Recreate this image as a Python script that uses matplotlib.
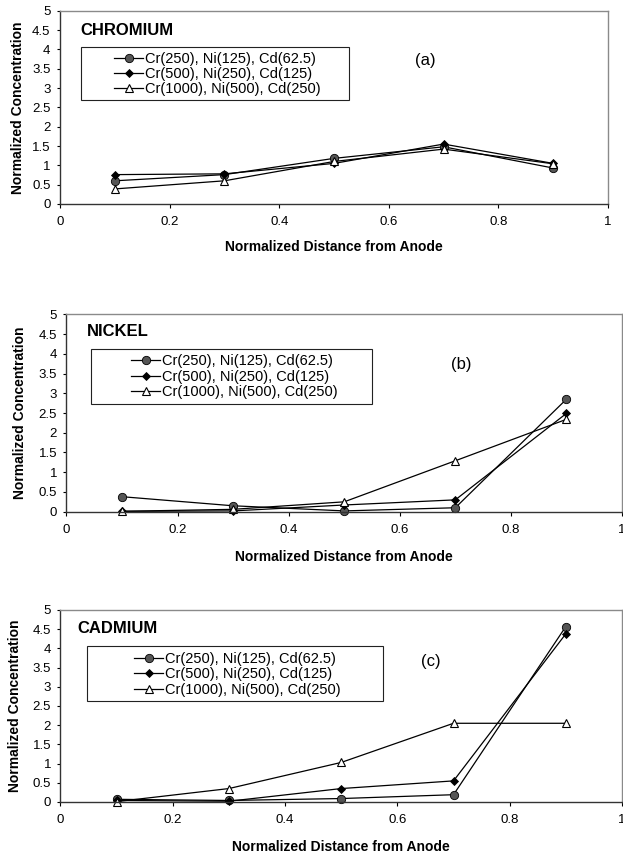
import matplotlib
matplotlib.use("Agg")
import matplotlib.pyplot as plt
from matplotlib.patches import Rectangle

plt.rcParams['font.family'] = ['Liberation Sans', 'DejaVu Sans']

# ---------------- data ----------------
x_dist = [0.1, 0.3, 0.5, 0.7, 0.9]
series_labels = ["Cr(250), Ni(125), Cd(62.5)",
                 "Cr(500), Ni(250), Cd(125)",
                 "Cr(1000), Ni(500), Cd(250)"]

cr_s1 = [0.60, 0.76, 1.18, 1.48, 0.93]
cr_s2 = [0.76, 0.78, 1.05, 1.55, 1.05]
cr_s3 = [0.39, 0.60, 1.10, 1.42, 1.04]

ni_s1 = [0.38, 0.15, 0.02, 0.10, 2.85]
ni_s2 = [0.01, 0.02, 0.17, 0.30, 2.49]
ni_s3 = [0.01, 0.06, 0.25, 1.29, 2.34]

cd_s1 = [0.07, 0.04, 0.09, 0.19, 4.57]
cd_s2 = [0.04, 0.02, 0.35, 0.55, 4.38]
cd_s3 = [0.01, 0.35, 1.03, 2.05, 2.05]

x_ticks = [0, 0.2, 0.4, 0.6, 0.8, 1]
x_ticklabels = ["0", "0.2", "0.4", "0.6", "0.8", "1"]
y_ticks = [0, 0.5, 1, 1.5, 2, 2.5, 3, 3.5, 4, 4.5, 5]
y_ticklabels = ["0", "0.5", "1", "1.5", "2", "2.5", "3", "3.5", "4", "4.5", "5"]

panel_titles = ["CHROMIUM", "NICKEL", "CADMIUM"]
panel_tags = ["(a)", "(b)", "(c)"]
panel_data = [(cr_s1, cr_s2, cr_s3), (ni_s1, ni_s2, ni_s3), (cd_s1, cd_s2, cd_s3)]

# ---------------- layout (pixels) ----------------
W, H = 623, 857
layout = [
    dict(l=60, r=608, t=10.7, b=204, title=(80.6, 30.7), tag=(425, 61),
         box=(80.6, 47, 348.8, 100), hx=114, hy=74, lsp=0.05, xl=247, yl=18),
    dict(l=66.4, r=622, t=314.3, b=511.7, title=(86.6, 331.7), tag=(461, 365),
         box=(91.4, 349, 372.3, 404), hx=131, hy=376.7, lsp=0.1, xl=556.7, yl=20),
    dict(l=60.4, r=622, t=610, b=802, title=(77.5, 628.3), tag=(431, 661.7),
         box=(86.6, 645.7, 383.4, 701), hx=134, hy=674.3, lsp=0.1, xl=846.7, yl=15),
]

def fx(px):
    return px / W

def fy(py):
    return 1 - py / H

styles = [
    dict(marker='o', ms=6, mfc='#555555', mec='black', mew=0.6),
    dict(marker='D', ms=4, mfc='black', mec='black', mew=0.6),
    dict(marker='^', ms=6, mfc='white', mec='black', mew=0.8),
]

fig = plt.figure(figsize=(W / 100, H / 100), dpi=100)

for i, L in enumerate(layout):
    ax = fig.add_axes([fx(L['l']), fy(L['b']), fx(L['r'] - L['l']), (L['b'] - L['t']) / H])
    for s, ys, lab in zip(styles, panel_data[i], series_labels):
        ax.plot(x_dist, ys, color='black', lw=0.9, label=lab, clip_on=False, **s)
    ax.set_xlim(0, 1)
    ax.set_ylim(0, 5)
    ax.set_xticks(x_ticks)
    ax.set_xticklabels(x_ticklabels)
    ax.set_yticks(y_ticks)
    ax.set_yticklabels(y_ticklabels)
    ax.tick_params(axis='x', direction='out', length=3, width=0.8, pad=5.5, labelsize=9.5)
    ax.tick_params(axis='y', direction='out', length=2.5, width=0.8, pad=4.3, labelsize=9.5)
    for side in ['left', 'bottom']:
        ax.spines[side].set_color('#333333')
        ax.spines[side].set_linewidth(1.0)
    for side in ['top', 'right']:
        ax.spines[side].set_color('#8a8a8a')
        ax.spines[side].set_linewidth(1.0)

    ax.set_xlabel("Normalized Distance from Anode", fontsize=10, fontweight='bold', va='center')
    ax.xaxis.set_label_coords(fx((L['l'] + L['r']) / 2), fy(L['xl']), transform=fig.transFigure)
    ax.set_ylabel("Normalized Concentration", fontsize=10, fontweight='bold', va='center')
    ax.yaxis.set_label_coords(fx(L['yl']), fy((L['t'] + L['b']) / 2), transform=fig.transFigure)

    fig.text(fx(L['title'][0]), fy(L['title'][1]), panel_titles[i], fontsize=12,
             fontweight='bold', ha='left', va='center')
    fig.text(fx(L['tag'][0]), fy(L['tag'][1]), panel_tags[i], fontsize=12,
             ha='center', va='center')

    ax.legend(loc='center left', bbox_to_anchor=(fx(L['hx']), fy(L['hy'])),
              bbox_transform=fig.transFigure, frameon=False, fontsize=10.5,
              borderpad=0, borderaxespad=0, handlelength=2.0, handletextpad=0.15,
              labelspacing=L['lsp'], numpoints=1)
    x0, y0, x1, y1 = L['box']
    fig.add_artist(Rectangle((fx(x0), fy(y1)), fx(x1 - x0), (y1 - y0) / H,
                             transform=fig.transFigure, fill=False,
                             edgecolor='#222222', lw=0.8))

fig.savefig("out.png", dpi=100, facecolor='white')
